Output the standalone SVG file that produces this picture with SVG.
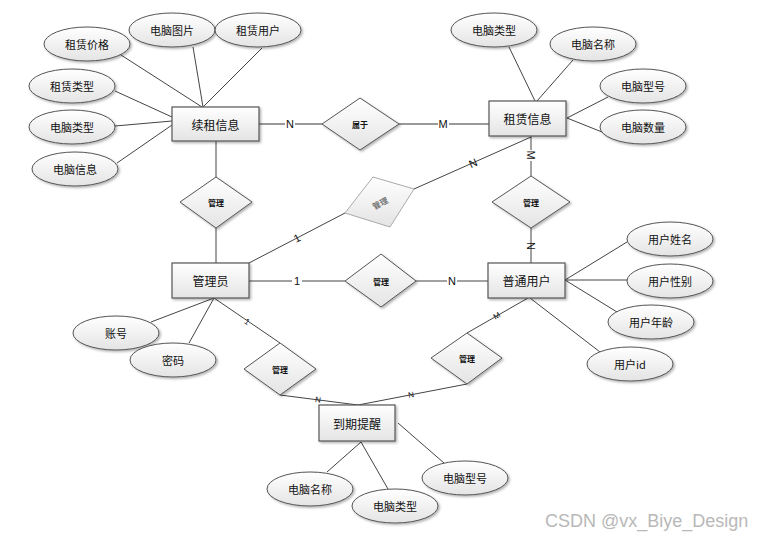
<svg xmlns="http://www.w3.org/2000/svg" width="768" height="539" viewBox="0 0 768 539">
<defs>
<linearGradient id="g" x1="0" y1="0" x2="0" y2="1">
<stop offset="0" stop-color="#ffffff"/>
<stop offset="1" stop-color="#e4e4e4"/>
</linearGradient>
<filter id="sh" x="-20%" y="-20%" width="150%" height="150%">
<feDropShadow dx="1.5" dy="1.5" stdDeviation="0.8" flood-color="#000" flood-opacity="0.3"/>
</filter>
</defs>
<style>
.ent{fill:url(#g);stroke:#555;stroke-width:1.2;filter:url(#sh)}
.att{fill:url(#g);stroke:#555;stroke-width:1;filter:url(#sh)}
.rel{fill:url(#g);stroke:#555;stroke-width:1;filter:url(#sh)}
.relg{fill:url(#g);stroke:#aaa;stroke-width:1}
.t{font-family:"Noto Sans CJK SC","Liberation Sans",sans-serif;font-size:11px;fill:#111;text-anchor:middle;dominant-baseline:central}
.te{font-family:"Noto Sans CJK SC","Liberation Sans",sans-serif;font-size:12px;fill:#111;text-anchor:middle;dominant-baseline:central}
.tr{font-family:"Noto Sans CJK SC","Liberation Sans",sans-serif;font-size:8px;font-weight:bold;fill:#111;text-anchor:middle;dominant-baseline:central}
.ln{stroke:#444;stroke-width:1;fill:none}
.lnh{stroke:#777;stroke-width:1.5;fill:none}
.lb{font-family:"Liberation Sans",sans-serif;font-size:11px;fill:#111;text-anchor:middle;dominant-baseline:central}
.lbs{font-family:"Liberation Sans",sans-serif;font-size:8px;fill:#111;text-anchor:middle;dominant-baseline:central}
.wm{font-family:"Liberation Sans",sans-serif;font-size:18px;fill:#b8b8b8}
</style>
<rect width="768" height="539" fill="#fff"/>
<g id="connectors">
<!-- 续租信息 attributes -->
<line class="ln" x1="121" y1="55" x2="202" y2="107"/>
<line class="ln" x1="193" y1="47" x2="203" y2="107"/>
<line class="ln" x1="262" y1="48" x2="203" y2="107"/>
<line class="ln" x1="115" y1="91" x2="172" y2="117"/>
<line class="ln" x1="115" y1="126" x2="172" y2="121"/>
<line class="ln" x1="117" y1="163" x2="172" y2="125"/>
<!-- 租赁信息 attributes -->
<line class="ln" x1="509" y1="47" x2="535" y2="101"/>
<line class="ln" x1="573" y1="60" x2="537" y2="101"/>
<line class="ln" x1="608" y1="97" x2="567" y2="118"/>
<line class="ln" x1="602" y1="132" x2="567" y2="118" stroke-width="1.4"/>
<!-- 属于 -->
<line class="lnh" x1="259" y1="124" x2="322" y2="124"/>
<line class="lnh" x1="399" y1="124" x2="489" y2="124"/>
<!-- 续租信息 - 管理 - 管理员 -->
<line class="ln" x1="216" y1="141" x2="216" y2="177"/>
<line class="ln" x1="216" y1="228" x2="216" y2="263"/>
<!-- gray 管理 -->
<line class="ln" x1="249" y1="263" x2="345" y2="213"/>
<line class="ln" x1="414" y1="189" x2="531" y2="137"/>
<!-- 租赁信息 - 管理 - 普通用户 -->
<line class="ln" x1="531" y1="136" x2="531" y2="176"/>
<line class="ln" x1="531" y1="228" x2="531" y2="263"/>
<!-- 管理员 - 管理 - 普通用户 -->
<line class="ln" x1="249" y1="281" x2="345" y2="281"/>
<line class="ln" x1="416" y1="281" x2="488" y2="281"/>
<!-- 管理员 attributes -->
<line class="ln" x1="151" y1="322" x2="214" y2="298"/>
<line class="ln" x1="189" y1="343" x2="214" y2="298"/>
<!-- 普通用户 attributes -->
<line class="ln" x1="565" y1="280" x2="627" y2="242"/>
<line class="ln" x1="565" y1="280" x2="627" y2="280"/>
<line class="ln" x1="565" y1="280" x2="617" y2="312"/>
<line class="ln" x1="530" y1="298" x2="600" y2="352"/>
<!-- 管理员 - 管理 - 到期提醒 -->
<line class="ln" x1="214" y1="298" x2="280" y2="343"/>
<line class="ln" x1="280" y1="395" x2="358" y2="405"/>
<!-- 普通用户 - 管理 - 到期提醒 -->
<line class="ln" x1="528" y1="298" x2="467" y2="333"/>
<line class="ln" x1="467" y1="384" x2="358" y2="405"/>
<!-- 到期提醒 attributes -->
<line class="ln" x1="327" y1="472" x2="361" y2="442"/>
<line class="ln" x1="388" y1="489" x2="361" y2="442"/>
<line class="ln" x1="444" y1="463" x2="398" y2="423"/>
<!-- cardinality labels -->
<rect x="285" y="118" width="10" height="12" fill="#fff"/>
<text class="lb" x="290" y="124">N</text>
<rect x="438" y="118" width="11" height="12" fill="#fff"/>
<text class="lb" x="443" y="124">M</text>
<rect x="525" y="150" width="12" height="11" fill="#fff"/>
<text class="lb" x="531" y="155" transform="rotate(90 531 155)">M</text>
<text class="lb" x="531" y="246" transform="rotate(90 531 246)">N</text>
<text class="lb" x="473" y="163" transform="rotate(-24 473 163)">N</text>
<text class="lb" x="297" y="238" transform="rotate(-27 297 238)">1</text>
<rect x="292" y="275" width="10" height="12" fill="#fff"/>
<text class="lb" x="297" y="281">1</text>
<rect x="447" y="275" width="10" height="12" fill="#fff"/>
<text class="lb" x="452" y="281">N</text>
<text class="lbs" x="247" y="322" transform="rotate(34 247 322)">1</text>
<text class="lbs" x="318" y="400" transform="rotate(8 318 400)">N</text>
<text class="lbs" x="497" y="316" transform="rotate(-30 497 316)">M</text>
<text class="lbs" x="411" y="395" transform="rotate(-11 411 395)">N</text>
</g>
<g id="e_xuzu"><rect class="ent" x="172" y="107" width="87" height="34"/><text class="te" x="215.5" y="124">续租信息</text></g>
<g id="e_zulin"><rect class="ent" x="489" y="101" width="77" height="35"/><text class="te" x="527.5" y="118.5">租赁信息</text></g>
<g id="e_admin"><rect class="ent" x="172" y="263" width="77" height="35"/><text class="te" x="210.5" y="280.5">管理员</text></g>
<g id="e_user"><rect class="ent" x="488" y="263" width="77" height="35"/><text class="te" x="526.5" y="280.5">普通用户</text></g>
<g id="e_daoqi"><rect class="ent" x="319" y="405" width="76" height="36"/><text class="te" x="357" y="423">到期提醒</text></g>
<g id="a_zljg"><ellipse class="att" cx="87" cy="44" rx="43" ry="17"/><text class="t" x="87" y="44">租赁价格</text></g>
<g id="a_dntp"><ellipse class="att" cx="172" cy="30" rx="43" ry="17"/><text class="t" x="172" y="30">电脑图片</text></g>
<g id="a_zlyh"><ellipse class="att" cx="258" cy="30" rx="43" ry="17"/><text class="t" x="258" y="30">租赁用户</text></g>
<g id="a_zllx"><ellipse class="att" cx="72" cy="86" rx="43" ry="17"/><text class="t" x="72" y="86">租赁类型</text></g>
<g id="a_dnlx1"><ellipse class="att" cx="72" cy="127" rx="43" ry="17"/><text class="t" x="72" y="127">电脑类型</text></g>
<g id="a_dnxx"><ellipse class="att" cx="75" cy="169" rx="43" ry="17"/><text class="t" x="75" y="169">电脑信息</text></g>
<g id="a_dnlx2"><ellipse class="att" cx="494" cy="30" rx="43" ry="17"/><text class="t" x="494" y="30">电脑类型</text></g>
<g id="a_dnmc1"><ellipse class="att" cx="593" cy="44" rx="43" ry="17"/><text class="t" x="593" y="44">电脑名称</text></g>
<g id="a_dnxh1"><ellipse class="att" cx="643" cy="86" rx="43" ry="17"/><text class="t" x="643" y="86">电脑型号</text></g>
<g id="a_dnsl"><ellipse class="att" cx="643" cy="127" rx="43" ry="17"/><text class="t" x="643" y="127">电脑数量</text></g>
<g id="a_zh"><ellipse class="att" cx="116" cy="333" rx="43" ry="17"/><text class="t" x="116" y="333">账号</text></g>
<g id="a_mm"><ellipse class="att" cx="173" cy="360" rx="43" ry="17"/><text class="t" x="173" y="360">密码</text></g>
<g id="a_yhxm"><ellipse class="att" cx="670" cy="239" rx="43" ry="17"/><text class="t" x="670" y="239">用户姓名</text></g>
<g id="a_yhxb"><ellipse class="att" cx="670" cy="281" rx="43" ry="17"/><text class="t" x="670" y="281">用户性别</text></g>
<g id="a_yhnl"><ellipse class="att" cx="651" cy="322" rx="43" ry="17"/><text class="t" x="651" y="322">用户年龄</text></g>
<g id="a_yhid"><ellipse class="att" cx="630" cy="364" rx="43" ry="17"/><text class="t" x="630" y="364">用户id</text></g>
<g id="a_dnmc2"><ellipse class="att" cx="310" cy="489" rx="43" ry="17"/><text class="t" x="310" y="489">电脑名称</text></g>
<g id="a_dnlx3"><ellipse class="att" cx="395" cy="506" rx="43" ry="17"/><text class="t" x="395" y="506">电脑类型</text></g>
<g id="a_dnxh2"><ellipse class="att" cx="465" cy="478" rx="43" ry="17"/><text class="t" x="465" y="478">电脑型号</text></g>
<g id="r_shuyu"><polygon class="rel" points="322,124 360,98 399,124 360,150"/><text class="tr" x="360" y="124">属于</text></g>
<g id="r_gl1"><polygon class="rel" points="180,202 216,177 252,202 216,228"/><text class="tr" x="216" y="202">管理</text></g>
<g id="r_glg"><polygon class="relg" points="345,213 373,177 414,189 390,227"/><text class="tr" x="380" y="203" fill="#666" style="fill:#777" transform="rotate(-28 380 203)">管理</text></g>
<g id="r_gl2"><polygon class="rel" points="492,202 531,176 570,202 531,228"/><text class="tr" x="531" y="202">管理</text></g>
<g id="r_gl3"><polygon class="rel" points="345,281 381,254 416,281 381,307"/><text class="tr" x="381" y="281">管理</text></g>
<g id="r_gl4"><polygon class="rel" points="244,369 280,343 316,369 280,395"/><text class="tr" x="280" y="369">管理</text></g>
<g id="r_gl5"><polygon class="rel" points="431,358 467,333 502,358 467,384"/><text class="tr" x="467" y="358">管理</text></g>
<text class="wm" x="545" y="527">CSDN @vx_Biye_Design</text>
</svg>
